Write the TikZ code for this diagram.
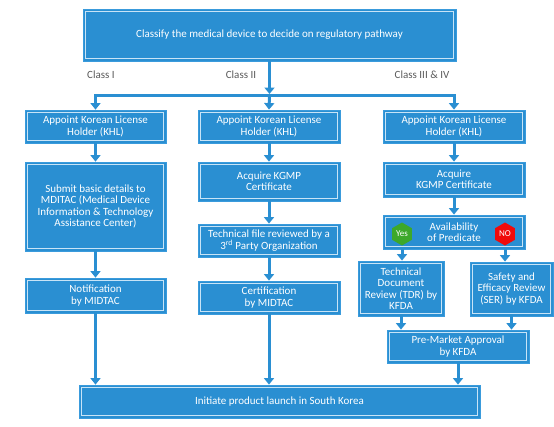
\documentclass[tikz,border=0pt]{standalone}
\usepackage{fontspec}
\setmainfont{Carlito}
\usetikzlibrary{arrows.meta,shapes.geometric}
\definecolor{boxblue}{HTML}{2A8FD2}
\definecolor{edgeblue}{HTML}{3A9BDC}
\definecolor{inner}{HTML}{C8E4F7}
\definecolor{lblgray}{HTML}{595959}
\definecolor{yesgreen}{HTML}{3DA82A}
\definecolor{nored}{HTML}{F00A0A}
\begin{document}
\begin{tikzpicture}[x=1pt,y=-1pt,
  box/.style={draw=edgeblue,line width=0.8pt,fill=boxblue,text=white,align=center,inner sep=0pt,
    font=\fontsize{11}{11.5}\selectfont,
    path picture={\draw[inner,line width=0.7pt]
      ([shift={(2.2pt,-2.2pt)}]path picture bounding box.north west) rectangle
      ([shift={(-2.2pt,2.2pt)}]path picture bounding box.south east);}},
  arr/.style={draw=boxblue,line width=3pt,-{Triangle[width=10pt,length=6.5pt]}},
  cls/.style={text=lblgray,font=\fontsize{11}{12}\selectfont},
  hex/.style={regular polygon,regular polygon sides=6,shape border rotate=30,minimum size=23pt,inner sep=0pt,text=white,font=\fontsize{9}{10}\selectfont}
]
\useasboundingbox (0,0) rectangle (554,426);
% top
\node[box,minimum width=373pt,minimum height=52pt] (top) at (269.5,35) {Classify the medical device to decide on regulatory pathway};
\node[cls] (c1) at (101,75) {Class I};
\node[cls] (c2) at (241,75) {Class II};
\node[cls] (c3) at (422,75) {Class III \& IV};
\coordinate (hub) at (269.5,95);
\coordinate (hubtip) at (269.5,94);
% column 1
\node[box,minimum width=141pt,minimum height=33pt] (k1) at (95.5,126.5) {Appoint Korean License\\Holder (KHL)};
\node[box,minimum width=141pt,minimum height=89pt] (s1) at (95.5,206.5) {Submit basic details to\\MDITAC (Medical Device\\Information \& Technology\\Assistance Center)};
\node[box,minimum width=141pt,minimum height=35pt] (n1) at (95.5,295.5) {Notification\\by MIDTAC};
% column 2
\node[box,minimum width=142pt,minimum height=33pt] (k2) at (269,126.5) {Appoint Korean License\\Holder (KHL)};
\node[box,minimum width=142pt,minimum height=39pt] (a2) at (269,181.5) {Acquire KGMP\\Certificate};
\node[box,minimum width=142pt,minimum height=33pt] (t2) at (269,240.5) {Technical file reviewed by a\\3\textsuperscript{rd} Party Organization};
\node[box,minimum width=142pt,minimum height=33pt] (n2) at (269,297.5) {Certification\\by MIDTAC};
% column 3
\node[box,minimum width=142pt,minimum height=33pt] (k3) at (454,126.5) {Appoint Korean License\\Holder (KHL)};
\node[box,minimum width=142pt,minimum height=35pt] (a3) at (454,179.5) {Acquire\\KGMP Certificate};
\node[box,minimum width=142pt,minimum height=34pt] (av) at (454,232) {Availability\\of Predicate};
\node[hex,fill=yesgreen] (yes) at (402,234) {Yes};
\node[hex,fill=nored] (no) at (505,234) {NO};
\node[box,minimum width=86pt,minimum height=55pt] (tdr) at (401,288.5) {Technical\\Document\\Review (TDR) by\\KFDA};
\node[box,minimum width=83pt,minimum height=54pt] (ser) at (511.5,289) {Safety and\\Efficacy Review\\(SER) by KFDA};
\node[box,minimum width=142pt,minimum height=33pt] (pm) at (458,346.5) {Pre-Market Approval\\by KFDA};
% bottom
\node[box,minimum width=401pt,minimum height=33pt] (fin) at (279.5,401.5) {Initiate product launch in South Korea};
% connectors
\draw[arr] (top.south) -- (hubtip);
\draw[arr] (hub) -| (k1.north);
\draw[arr] (hub) -| (k3.north);
\draw[arr] (hub) -- (k2.north);
\draw[arr] (k1) -- (s1);
\draw[arr] (s1) -- (n1);
\draw[arr] (n1.south) -- (n1.south |- fin.north);
\draw[arr] (k2) -- (a2);
\draw[arr] (a2) -- (t2);
\draw[arr] (t2) -- (n2);
\draw[arr] (n2.south) -- (n2.south |- fin.north);
\draw[arr] (k3) -- (a3);
\draw[arr] (a3) -- (av);
\draw[arr] (yes |- av.south) -- (yes |- tdr.north);
\draw[arr] (no |- av.south) -- (no |- ser.north);
\draw[arr] (tdr.south) -- (tdr.south |- pm.north);
\draw[arr] (ser.south) -- (ser.south |- pm.north);
\draw[arr] (pm.south) -- (pm.south |- fin.north);
\end{tikzpicture}
\end{document}
